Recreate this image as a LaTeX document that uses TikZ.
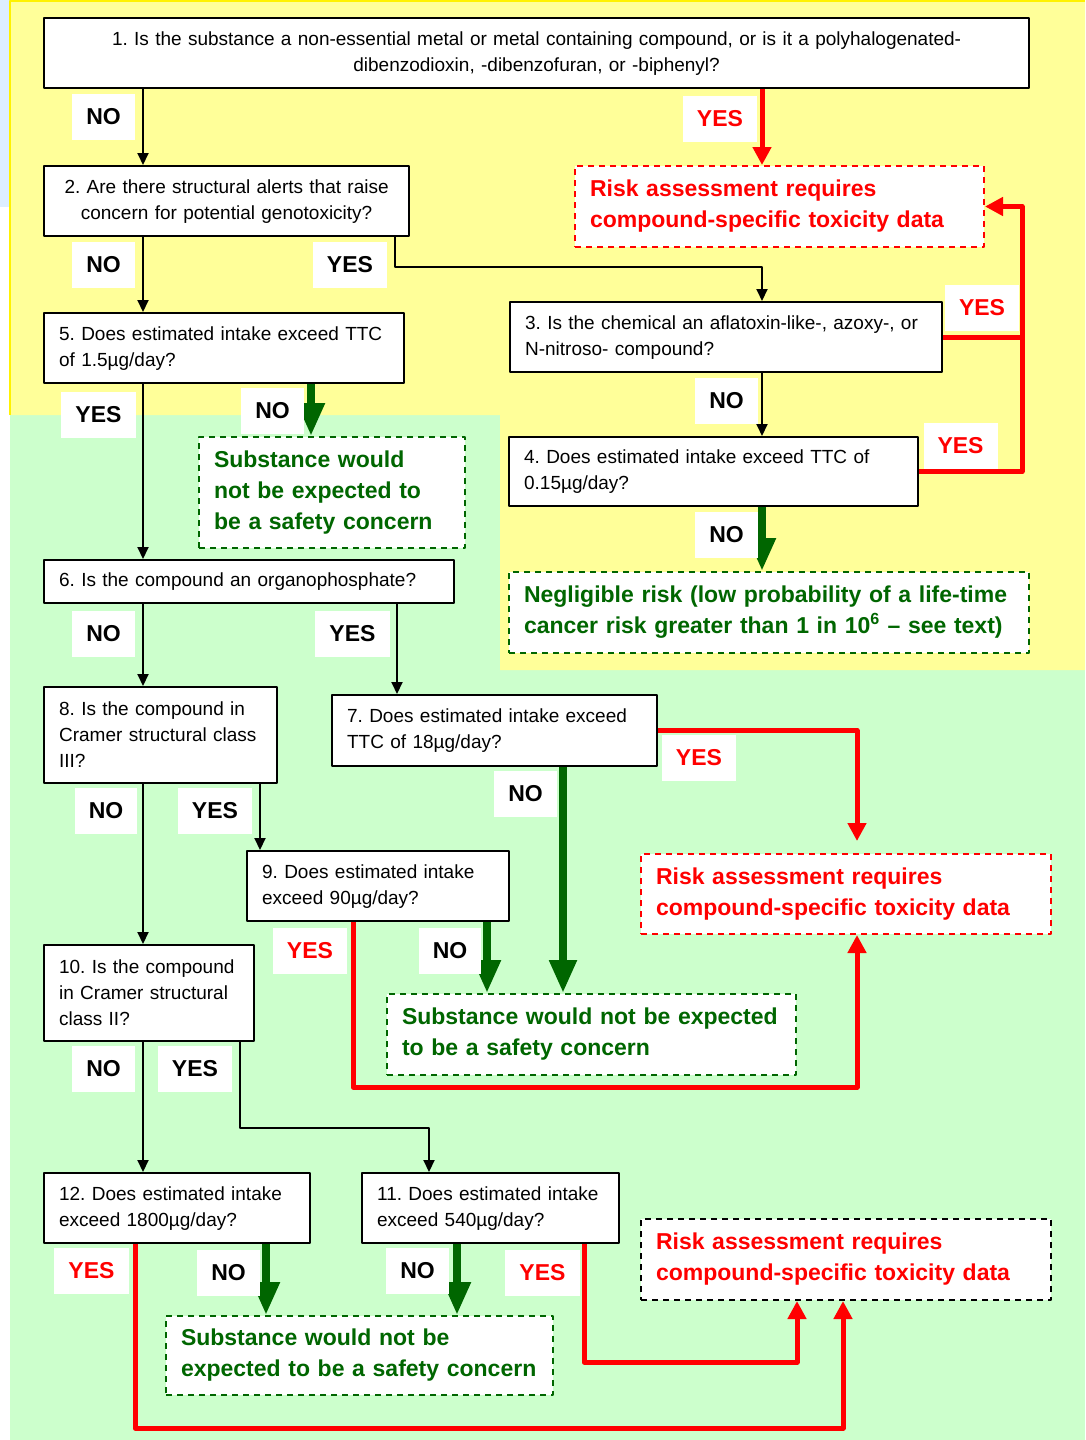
\documentclass[tikz,border=0pt]{standalone}
\usepackage{fontspec}
\setmainfont{Liberation Sans}
\usetikzlibrary{arrows.meta}
\frenchspacing

\definecolor{bgyellow}{RGB}{255,255,153}
\definecolor{bggreen}{RGB}{204,255,204}
\definecolor{bgblue}{RGB}{221,238,255}
\definecolor{dkgreen}{RGB}{0,102,0}

\begin{document}
\begin{tikzpicture}[x=1pt, y=-1pt, line join=round,
    qbox/.style={draw, line width=2.2pt, fill=white, anchor=north west,
        align=left, inner xsep=15pt, inner ysep=0pt,
        font=\fontsize{19}{26}\selectfont},
    outbox/.style={draw, line width=2pt, dash pattern=on 6pt off 5pt,
        fill=white, anchor=north west, align=left, inner xsep=15pt,
        inner ysep=0pt, font=\fontsize{23}{31}\selectfont\bfseries},
    redbox/.style={outbox, draw=red, text=red},
    grnbox/.style={outbox, draw=dkgreen, text=dkgreen},
    blkbox/.style={outbox, draw=black, text=red},
    lbl/.style={fill=white, minimum height=46pt, inner xsep=14pt,
        inner ysep=0pt, font=\fontsize{23}{26}\selectfont\bfseries},
    redlbl/.style={lbl, text=red},
    arr/.style={line width=2pt, -{Triangle[length=12pt, width=11pt]}},
    redln/.style={draw=red, line width=5pt},
    redarr/.style={redln, -{Triangle[length=18pt, width=18pt]}},
    grnarr/.style={draw=dkgreen, line width=8pt,
        -{Triangle[length=33pt, width=26pt]}}]

    \useasboundingbox (0,0) rectangle (1085,1440);

    % Background
    \fill[bgblue] (0,0) rectangle (10,207);
    \fill[bggreen] (10,415) rectangle (1085,1440);
    \fill[bgyellow]
        (10,0) -- (1085,0) -- (1085,670) -- (500,670) -- (500,415) -- (10,415) -- cycle;
    \draw[yellow, line width=1.5pt] (10,415) -- (10,0.75) -- (1085,0.75);

    % Questions
    \node[qbox, align=center, text width=955pt, minimum height=70pt] (q1) at (43,17)
        {1. Is the substance a non-essential metal or metal containing compound, or is it a polyhalogenated-\\dibenzodioxin, -dibenzofuran, or -biphenyl?};
    \node[qbox, align=center, text width=335pt, minimum height=70pt] (q2) at (43,165)
        {2. Are there structural alerts that raise\\concern for potential genotoxicity?};
    \node[qbox, text width=402pt, minimum height=70pt] (q3) at (509,301)
        {3. Is the chemical an aflatoxin-like-, azoxy-, or\\N-nitroso- compound?};
    \node[qbox, text width=379pt, minimum height=69pt] (q4) at (508,436)
        {4. Does estimated intake exceed TTC of\\0.15µg/day?};
    \node[qbox, text width=330pt, minimum height=70pt] (q5) at (43,312)
        {5. Does estimated intake exceed TTC\\of 1.5µg/day?};
    \node[qbox, text width=380pt, minimum height=43pt] (q6) at (43,559)
        {6. Is the compound an organophosphate?};
    \node[qbox, text width=295pt, minimum height=71pt] (q7) at (331,694)
        {7. Does estimated intake exceed\\TTC of 18µg/day?};
    \node[qbox, text width=203pt, minimum height=96pt] (q8) at (43,686)
        {8. Is the compound in\\Cramer structural class\\III?};
    \node[qbox, text width=232pt, minimum height=70pt] (q9) at (246,850)
        {9. Does estimated intake\\exceed 90µg/day?};
    \node[qbox, text width=180pt, minimum height=96pt] (q10) at (43,944)
        {10. Is the compound\\in Cramer structural\\class II?};
    \node[qbox, text width=227pt, minimum height=70pt] (q11) at (361,1172)
        {11. Does estimated intake\\exceed 540µg/day?};
    \node[qbox, text width=236pt, minimum height=70pt] (q12) at (43,1172)
        {12. Does estimated intake\\exceed 1800µg/day?};

    % Outcomes
    \node[redbox, text width=379pt, minimum height=81pt] (r1) at (574,165)
        {Risk assessment requires\\compound-specific toxicity data};
    \node[redbox, text width=380pt, minimum height=80pt] (r2) at (640,853)
        {Risk assessment requires\\compound-specific toxicity data};
    \node[blkbox, text width=380pt, minimum height=81pt] (r3) at (640,1218)
        {Risk assessment requires\\compound-specific toxicity data};
    \node[grnbox, text width=236pt, minimum height=111pt] (g1) at (198,436)
        {Substance would\\not be expected to\\be a safety concern};
    \node[grnbox, text width=490pt, minimum height=81pt] (n1) at (508,571)
        {Negligible risk (low probability of a life-time\\cancer risk greater than 1 in 10\textsuperscript{6} -- see text)};
    \node[grnbox, text width=379pt, minimum height=81pt] (g2) at (386,993)
        {Substance would not be expected\\to be a safety concern};
    \node[grnbox, text width=357pt, minimum height=79pt] (g3) at (165,1315)
        {Substance would not be\\expected to be a safety concern};

    % Columns and bends
    \coordinate (xa) at (143,0);
    \coordinate (xb) at (762,0);
    \coordinate (xr) at (1022,0);
    \coordinate (x5n) at (311,0);
    \coordinate (x6y) at (397,0);
    \coordinate (x7n) at (563,0);
    \coordinate (x7y) at (857,0);
    \coordinate (x8y) at (260,0);
    \coordinate (x9n) at (487,0);
    \coordinate (x11) at (429,0);
    \coordinate (x11n) at (457,0);
    \coordinate (x12n) at (266,0);
    \coordinate (x3a) at (797,0);
    \coordinate (x3b) at (843,0);
    \coordinate (k23) at (395,267);
    \coordinate (k9) at (353,1087);
    \coordinate (k10) at (240,1128);
    \coordinate (k11) at (584,1362);
    \coordinate (k12) at (135,1428);

    % Connectors
    \draw[arr] (q1.south -| xa) -- (q2.north -| xa);
    \draw[redarr] (q1.south -| xb) -- (r1.north -| xb);
    \draw[arr] (q2.south -| xa) -- (q5.north -| xa);
    \draw[arr] (q2.south -| k23) -- (k23) -| (q3.north -| xb);
    \draw[arr] (q3.south -| xb) -- (q4.north -| xb);
    \draw[redln] (q3.east) -- (q3.east -| xr);
    \draw[redarr] (q4.east) -| (xr |- r1.east) -- (r1.east);
    \draw[grnarr] (q4.south -| xb) -- (n1.north -| xb);
    \draw[arr] (q5.south -| xa) -- (q6.north -| xa);
    \draw[grnarr] (q5.south -| x5n) -- (g1.north -| x5n);
    \draw[arr] (q6.south -| xa) -- (q8.north -| xa);
    \draw[arr] (q6.south -| x6y) -- (q7.north -| x6y);
    \draw[redarr, shorten >=12pt] (q7.east) -| (r2.north -| x7y);
    \draw[grnarr] (q7.south -| x7n) -- (g2.north -| x7n);
    \draw[arr] (q8.south -| xa) -- (q10.north -| xa);
    \draw[arr] (q8.south -| x8y) -- (q9.north -| x8y);
    \draw[redarr] (q9.south -| k9) -- (k9) -| (r2.south -| x7y);
    \draw[grnarr] (q9.south -| x9n) -- (g2.north -| x9n);
    \draw[arr] (q10.south -| xa) -- (q12.north -| xa);
    \draw[arr] (q10.south -| k10) -- (k10) -| (q11.north -| x11);
    \draw[redarr] (q12.south -| k12) -- (k12) -| (r3.south -| x3b);
    \draw[grnarr] (q12.south -| x12n) -- (g3.north -| x12n);
    \draw[grnarr] (q11.south -| x11n) -- (g3.north -| x11n);
    \draw[redarr] (q11.south -| k11) -- (k11) -| (r3.south -| x3a);

    % Labels
    \node[lbl] (l1n) at (103.5,116.5) {NO};
    \node[redlbl] (l1y) at (720,118.5) {YES};
    \node[lbl] (l2n) at (103.5,265) {NO};
    \node[lbl] (l2y) at (350,265) {YES};
    \node[redlbl] (l3y) at (982,308) {YES};
    \node[lbl] (l3n) at (726.5,401) {NO};
    \node[redlbl] (l4y) at (960.5,445.5) {YES};
    \node[lbl] (l4n) at (726.5,535) {NO};
    \node[lbl] (l5y) at (98.5,414.5) {YES};
    \node[lbl] (l5n) at (272.5,411) {NO};
    \node[lbl] (l6n) at (103.5,634) {NO};
    \node[lbl] (l6y) at (352.5,633.5) {YES};
    \node[redlbl] (l7y) at (699,758) {YES};
    \node[lbl] (l7n) at (525.5,794) {NO};
    \node[lbl] (l8n) at (106,811) {NO};
    \node[lbl] (l8y) at (215,810.5) {YES};
    \node[redlbl] (l9y) at (310,951) {YES};
    \node[lbl] (l9n) at (450,951) {NO};
    \node[lbl] (l10n) at (103.5,1069) {NO};
    \node[lbl] (l10y) at (195,1069) {YES};
    \node[redlbl] (l12y) at (91.5,1271) {YES};
    \node[lbl] (l12n) at (228.5,1273) {NO};
    \node[lbl] (l11n) at (417.5,1271) {NO};
    \node[redlbl] (l11y) at (542.5,1273) {YES};

\end{tikzpicture}
\end{document}
